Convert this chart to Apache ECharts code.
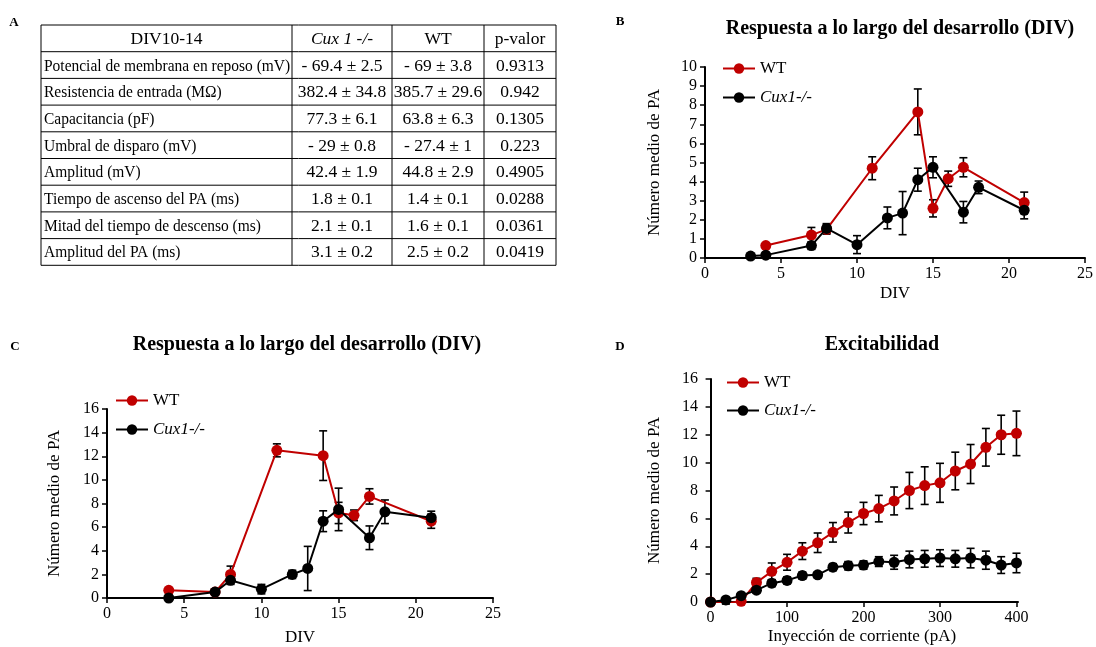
<!DOCTYPE html>
<html>
<head>
<meta charset="utf-8">
<script src="https://cdn.jsdelivr.net/npm/echarts@6/dist/echarts.min.js"></script>
<style>
  html, body { margin: 0; padding: 0; background: #fff; }
  #main { width: 1096px; height: 647px; }
</style>
</head>
<body>
<div id="main"></div>
<script>
// --- Tabla A ---
const tableHeader = ['DIV10-14', 'Cux 1 -/-', 'WT', 'p-valor'];
const tableLabels = [
  'Potencial de membrana en reposo (mV)',
  'Resistencia de entrada (M\u03A9)',
  'Capacitancia (pF)',
  'Umbral de disparo (mV)',
  'Amplitud (mV)',
  'Tiempo de ascenso del PA (ms)',
  'Mitad del tiempo de descenso (ms)',
  'Amplitud del PA (ms)'
];
const cuxValues = ['- 69.4 \u00B1 2.5', '382.4 \u00B1 34.8', '77.3 \u00B1 6.1', '- 29 \u00B1 0.8', '42.4 \u00B1 1.9', '1.8 \u00B1 0.1', '2.1 \u00B1 0.1', '3.1 \u00B1 0.2'];
const wtValues = ['- 69 \u00B1 3.8', '385.7 \u00B1 29.6', '63.8 \u00B1 6.3', '- 27.4 \u00B1 1', '44.8 \u00B1 2.9', '1.4 \u00B1 0.1', '1.6 \u00B1 0.1', '2.5 \u00B1 0.2'];
const pValues = ['0.9313', '0.942', '0.1305', '0.223', '0.4905', '0.0288', '0.0361', '0.0419'];

// --- Panel B ---
const divB_wt = [4, 7, 8, 11, 14, 15, 16, 17, 21];
const wtB = [0.65, 1.2, 1.5, 4.7, 7.65, 2.6, 4.15, 4.75, 2.9];
const wtB_err = [0.1, 0.4, 0.25, 0.6, 1.2, 0.45, 0.4, 0.5, 0.55];
const divB_cux = [3, 4, 7, 8, 10, 12, 13, 14, 15, 17, 18, 21];
const cuxB = [0.1, 0.15, 0.65, 1.55, 0.7, 2.1, 2.35, 4.1, 4.75, 2.4, 3.7, 2.5];
const cuxB_err = [0.05, 0.1, 0.2, 0.25, 0.47, 0.57, 1.13, 0.6, 0.55, 0.56, 0.33, 0.45];

// --- Panel C ---
const divC_wt = [4, 7, 8, 11, 14, 15, 16, 17, 21];
const wtC = [0.65, 0.5, 2.0, 12.5, 12.05, 7.2, 7.0, 8.6, 6.5];
const wtC_err = [0.1, 0.2, 0.7, 0.55, 2.1, 0.9, 0.45, 0.65, 0.6];
const divC_cux = [4, 7, 8, 10, 12, 13, 14, 15, 17, 18, 21];
const cuxC = [0, 0.5, 1.5, 0.75, 2.0, 2.5, 6.5, 7.5, 5.1, 7.3, 6.8];
const cuxC_err = [0.05, 0.2, 0.35, 0.4, 0.35, 1.87, 0.88, 1.8, 1.0, 1.0, 0.55];

// --- Panel D ---
const corrienteD = [0, 20, 40, 60, 80, 100, 120, 140, 160, 180, 200, 220, 240, 260, 280, 300, 320, 340, 360, 380, 400];
const wtD = [0, -0.1, 0.05, 1.4, 2.2, 2.85, 3.65, 4.25, 5.0, 5.7, 6.35, 6.7, 7.25, 8.0, 8.35, 8.55, 9.4, 9.9, 11.1, 12.0, 12.1];
const wtD_err = [0, 0.05, 0.05, 0.3, 0.6, 0.57, 0.6, 0.7, 0.7, 0.75, 0.8, 0.95, 1.0, 1.3, 1.35, 1.4, 1.35, 1.4, 1.35, 1.4, 1.6];
const cuxD = [0, 0.15, 0.45, 0.85, 1.35, 1.55, 1.9, 1.95, 2.5, 2.6, 2.65, 2.9, 2.85, 3.05, 3.1, 3.15, 3.1, 3.15, 3.0, 2.65, 2.8];
const cuxD_err = [0, 0.05, 0.1, 0.2, 0.25, 0.25, 0.25, 0.2, 0.25, 0.3, 0.3, 0.35, 0.5, 0.6, 0.6, 0.6, 0.6, 0.7, 0.65, 0.6, 0.7];

const FONT = 'Liberation Serif';
const RED = '#C00000';
const BLACK = '#000';

const chart = echarts.init(document.getElementById('main'), null, { renderer: 'canvas' });

function pts(xs, ys) { return xs.map((x, i) => [x, ys[i]]); }
function errs(xs, ys, es) { return xs.map((x, i) => [x, ys[i] - es[i], ys[i] + es[i]]); }

// barras de error: línea vertical con topes
function renderErr(params, api) {
  const x = api.value(0);
  const lo = api.coord([x, api.value(1)]);
  const hi = api.coord([x, api.value(2)]);
  const w = 4;
  const style = { stroke: BLACK, lineWidth: 1.6, fill: null };
  return {
    type: 'group',
    children: [
      { type: 'line', shape: { x1: lo[0], y1: lo[1], x2: hi[0], y2: hi[1] }, style },
      { type: 'line', shape: { x1: hi[0] - w, y1: hi[1], x2: hi[0] + w, y2: hi[1] }, style },
      { type: 'line', shape: { x1: lo[0] - w, y1: lo[1], x2: lo[0] + w, y2: lo[1] }, style }
    ]
  };
}

function lineSeries(name, color, idx, data) {
  return {
    type: 'line', name, xAxisIndex: idx, yAxisIndex: idx, data,
    symbol: 'circle', symbolSize: 11, z: name === 'WT' ? 3 : 4,
    lineStyle: { color, width: 2 }, itemStyle: { color },
    emphasis: { disabled: true }, animation: false
  };
}
function errSeries(idx, data) {
  return {
    type: 'custom', xAxisIndex: idx, yAxisIndex: idx, data, renderItem: renderErr,
    z: 2, silent: true, animation: false
  };
}

const axisCommon = {
  axisLine: { show: true, lineStyle: { color: BLACK, width: 2 } },
  axisTick: { show: true, inside: false, length: 5, lineStyle: { color: BLACK, width: 1.5 } },
  axisLabel: { color: BLACK, fontFamily: FONT, fontSize: 16 },
  splitLine: { show: false },
  nameTextStyle: { color: BLACK, fontFamily: FONT, fontSize: 17 }
};

function xAx(idx, opts) { return Object.assign({ type: 'value', gridIndex: idx, nameLocation: 'middle' }, JSON.parse(JSON.stringify(axisCommon)), opts); }
function yAx(idx, opts) { return Object.assign({ type: 'value', gridIndex: idx, nameLocation: 'middle', name: 'N\u00FAmero medio de PA', nameGap: 42, nameRotate: 90 }, JSON.parse(JSON.stringify(axisCommon)), opts); }

function legendAt(left, top, gap) {
  return {
    orient: 'vertical', left, top, padding: 0, itemGap: gap,
    itemWidth: 32, itemHeight: 13, selectedMode: false,
    textStyle: { color: BLACK, fontFamily: FONT, fontSize: 17 },
    data: [{ name: 'WT' }, { name: 'Cux1-/-', textStyle: { fontStyle: 'italic' } }]
  };
}

// Tabla con elementos gráficos
const colX = [41, 292, 392, 484, 556];
const tableTop = 25;
const rowH = 26.7;
const nRows = tableLabels.length + 1;
const tableEls = [];
for (let r = 0; r <= nRows; r++) {
  const y = tableTop + r * rowH;
  tableEls.push({ type: 'line', shape: { x1: colX[0], y1: y, x2: colX[4], y2: y }, style: { stroke: BLACK, lineWidth: 1 } });
}
colX.forEach(x => {
  tableEls.push({ type: 'line', shape: { x1: x, y1: tableTop, x2: x, y2: tableTop + nRows * rowH }, style: { stroke: BLACK, lineWidth: 1 } });
});
function cellText(text, x, y, align, italic, sx) {
  return {
    type: 'text', x, y, scaleX: sx,
    style: { text, fill: BLACK, font: (italic ? 'italic ' : '') + '17px "' + FONT + '"', textAlign: align, textVerticalAlign: 'middle' }
  };
}
tableHeader.forEach((h, c) => {
  tableEls.push(cellText(h, (colX[c] + colX[c + 1]) / 2, tableTop + rowH / 2 + 1, 'center', c === 1, 1.03));
});
tableLabels.forEach((lab, i) => {
  const y = tableTop + (i + 1.5) * rowH + 1;
  tableEls.push(cellText(lab, colX[0] + 3, y, 'left', false, 0.91));
  tableEls.push(cellText(cuxValues[i], (colX[1] + colX[2]) / 2, y, 'center', false, 1.03));
  tableEls.push(cellText(wtValues[i], (colX[2] + colX[3]) / 2, y, 'center', false, 1.03));
  tableEls.push(cellText(pValues[i], (colX[3] + colX[4]) / 2, y, 'center', false, 1.03));
});

function letter(t, x, y) {
  return { type: 'text', x, y, style: { text: t, fill: BLACK, font: 'bold 13px "' + FONT + '"', textAlign: 'center', textVerticalAlign: 'middle' } };
}

function titleAt(text, left, top) {
  return { text, left, top, textAlign: 'center', padding: 0, textStyle: { color: BLACK, fontFamily: FONT, fontSize: 20, fontWeight: 'bold' } };
}

const option = {
  backgroundColor: '#fff',
  animation: false,
  title: [
    titleAt('Respuesta a lo largo del desarrollo (DIV)', 900, 19),
    titleAt('Respuesta a lo largo del desarrollo (DIV)', 307, 335),
    titleAt('Excitabilidad', 882, 335)
  ],
  legend: [legendAt(722, 60, 12), legendAt(115, 392, 12), legendAt(726, 374, 11)],
  grid: [
    { left: 705, top: 67, width: 381, height: 191 },
    { left: 107, top: 409, width: 386, height: 193 },
    { left: 706, top: 379, width: 312, height: 223 }
  ],
  xAxis: [
    xAx(0, { min: 0, max: 25, interval: 5, name: 'DIV', nameGap: 27 }),
    xAx(1, { min: 0, max: 25, interval: 5, name: 'DIV', nameGap: 31 }),
    xAx(2, { min: -6, max: 402, name: 'Inyecci\u00F3n de corriente (pA)', nameGap: 26 })
  ],
  yAxis: [
    yAx(0, { min: 0, max: 10, interval: 1 }),
    yAx(1, { min: 0, max: 16, interval: 2, nameGap: 44 }),
    yAx(2, { min: 0, max: 16, interval: 2, nameGap: 43 })
  ],
  graphic: tableEls.concat([letter('A', 14, 23), letter('B', 620, 22), letter('C', 15, 347), letter('D', 620, 347)]),
  series: [
    errSeries(0, errs(divB_wt, wtB, wtB_err)),
    errSeries(0, errs(divB_cux, cuxB, cuxB_err)),
    lineSeries('WT', RED, 0, pts(divB_wt, wtB)),
    lineSeries('Cux1-/-', BLACK, 0, pts(divB_cux, cuxB)),
    errSeries(1, errs(divC_wt, wtC, wtC_err)),
    errSeries(1, errs(divC_cux, cuxC, cuxC_err)),
    lineSeries('WT', RED, 1, pts(divC_wt, wtC)),
    lineSeries('Cux1-/-', BLACK, 1, pts(divC_cux, cuxC)),
    errSeries(2, errs(corrienteD, wtD, wtD_err)),
    errSeries(2, errs(corrienteD, cuxD, cuxD_err)),
    lineSeries('WT', RED, 2, pts(corrienteD, wtD)),
    lineSeries('Cux1-/-', BLACK, 2, pts(corrienteD, cuxD))
  ]
};
// eje X del panel D: marcas sólo en 0..400
option.xAxis[2].axisLabel.customValues = [0, 100, 200, 300, 400];
option.xAxis[2].axisTick.customValues = [0, 100, 200, 300, 400];

chart.setOption(option);
</script>
</body>
</html>
